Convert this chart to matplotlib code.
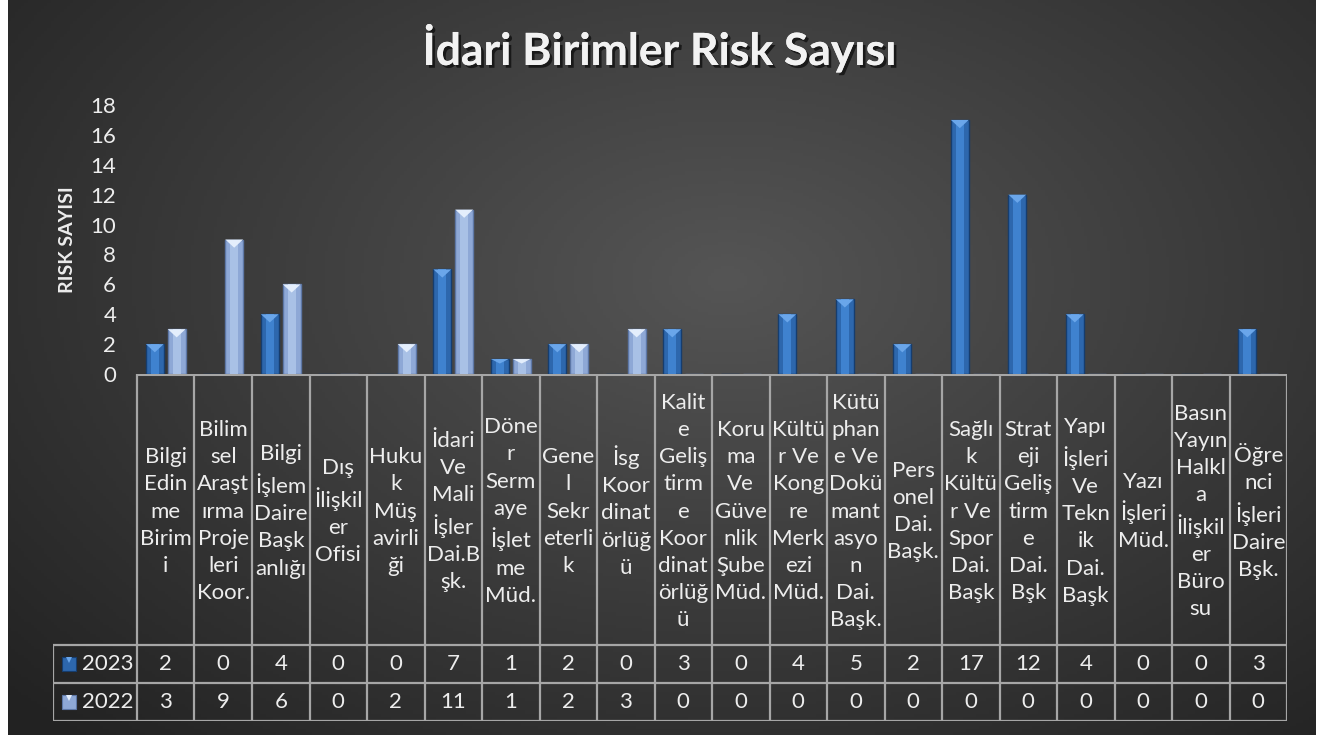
import numpy as np
import matplotlib
matplotlib.use('Agg')
from matplotlib import pyplot as plt
from matplotlib import patheffects as pe

plt.rcParams['font.family'] = ['Lato', 'DejaVu Sans']

# chart data
units = [
    'Bilgi\nEdin\nme\nBirim\ni',
    'Bilim\nsel\nAraşt\nırma\nProje\nleri\nKoor.',
    'Bilgi\nİşlem\nDaire\nBaşk\nanlığı',
    'Dış\nİlişkil\ner\nOfisi',
    'Huku\nk\nMüş\navirli\nği',
    'İdari\nVe\nMali\nİşler\nDai.B\nşk.',
    'Döne\nr\nSerm\naye\nİşlet\nme\nMüd.',
    'Gene\nl\nSekr\neterli\nk',
    'İsg\nKoor\ndinat\nörlüğ\nü',
    'Kalit\ne\nGeliş\ntirm\ne\nKoor\ndinat\nörlüğ\nü',
    'Koru\nma\nVe\nGüve\nnlik\nŞube\nMüd.',
    'Kültü\nr Ve\nKong\nre\nMerk\nezi\nMüd.',
    'Kütü\nphan\ne Ve\nDokü\nmant\nasyo\nn\nDai.\nBaşk.',
    'Pers\nonel\nDai.\nBaşk.',
    'Sağlı\nk\nKültü\nr Ve\nSpor\nDai.\nBaşk',
    'Strat\neji\nGeliş\ntirm\ne\nDai.\nBşk',
    'Yapı\nİşleri\nVe\nTekn\nik\nDai.\nBaşk',
    'Yazı\nİşleri\nMüd.',
    'Basın\nYayın\nHalkl\na\nİlişkil\ner\nBüro\nsu',
    'Öğre\nnci\nİşleri\nDaire\nBşk.',
]
risk_2023 = [2, 0, 4, 0, 0, 7, 1, 2, 0, 3, 0, 4, 5, 2, 17, 12, 4, 0, 0, 3]
risk_2022 = [3, 9, 6, 0, 2, 11, 1, 2, 3, 0, 0, 0, 0, 0, 0, 0, 0, 0, 0, 0]
series = [('2023', risk_2023), ('2022', risk_2022)]
yticks = list(range(0, 19, 2))

W, H = 1327, 735
fig = plt.figure(figsize=(W / 100, H / 100), dpi=100)
fig.patch.set_facecolor('white')

# dark radial gradient panel
bg = fig.add_axes([8 / W, 0, 1308 / W, 1])
gx, gy = np.meshgrid(np.linspace(0, 1, 400), np.linspace(0, 1, 240))
r = np.sqrt(((gx - 0.55) / 0.75) ** 2 + ((gy - 0.38) / 0.85) ** 2)
r = np.clip(r, 0, 1)
c0, c1 = np.array([0x55, 0x55, 0x55]) / 255, np.array([0x22, 0x22, 0x22]) / 255
img = c0 * (1 - r[..., None]) + c1 * r[..., None]
bg.imshow(img, aspect='auto', extent=(0, 1, 1, 0))
bg.axis('off')

txt = '#ededed'
grid = '#a6a6a6'
fs = 16

# main plot area
left, right, y0, y18 = 137, 1287, 374, 105
ax = fig.add_axes([left / W, 1 - y0 / H, (right - left) / W, (y0 - y18) / H])
ax.set_facecolor('none')
n = len(units)
x = np.arange(n)
bw = 0.31
offs = [-0.19, 0.19]
face = ['#2d67ad', '#8ea8d6']
edge = ['#163d6e', '#5d77a6']
shine = ['#3f82cf', '#a9c1e6']
tip = ['#6aa6ea', '#e4eefc']
for (name, vals), o, fc, ec, sh, tc in zip(series, offs, face, edge, shine, tip):
    v = np.array(vals, dtype=float)
    ax.bar(x + o, v, bw, color=fc, edgecolor=ec, linewidth=1.0, zorder=2)
    ax.bar(x + o, v, bw * 0.45, color=sh, linewidth=0, zorder=3)
    for xi, vi in zip(x + o, v):
        if vi <= 0:
            continue
        th = min(0.55, vi * 0.3)
        ax.fill([xi - bw / 2, xi + bw / 2, xi], [vi, vi, vi - th], color=tc, zorder=4, lw=0)
ax.set_xlim(-0.5, n - 0.5)
ax.set_ylim(0, 18)
ax.set_yticks(yticks)
ax.tick_params(axis='y', length=0, labelsize=fs, labelcolor=txt, pad=15)
ax.set_xticks([])
for s in ax.spines.values():
    s.set_visible(False)
ax.set_ylabel('RISK SAYISI', color=txt, fontsize=14, fontweight='bold', labelpad=10)

# data table under the plot
tab_left = 53
xl0 = -0.5 - (left - tab_left) / ((right - left) / n)
tab = fig.add_axes([tab_left / W, 1 - 721 / H, (right - tab_left) / W, (721 - y0) / H])
tab.set_facecolor('none')
tab.set_xlim(xl0, n - 0.5)
tab.set_ylim(721 - y0, 0)
tab.axis('off')
hdr, rh = 271, 38
lw = 1.6
tab.hlines(0, -0.5, n - 0.5, color=grid, lw=2.2)
for yy in [hdr, hdr + rh, hdr + 2 * rh]:
    tab.hlines(yy, xl0, n - 0.5, color=grid, lw=lw)
for xb in np.arange(-0.5, n, 1.0):
    tab.vlines(xb, 0, hdr + 2 * rh, color=grid, lw=lw)
tab.vlines(xl0, hdr, hdr + 2 * rh, color=grid, lw=lw)
for i, lab in enumerate(units):
    tab.text(i, hdr / 2 + 2, lab, ha='center', va='center', color=txt,
             fontsize=fs, linespacing=1.45)
for k, (name, vals) in enumerate(series):
    yc = hdr + rh * (k + 0.5)
    for i, v in enumerate(vals):
        tab.text(i, yc, str(v), ha='center', va='center', color=txt, fontsize=fs)
    tab.plot(xl0 + 0.28, yc, marker='s', ms=10, color=face[k], mec=edge[k], mew=0.8)
    tab.plot(xl0 + 0.28, yc - 4, marker='v', ms=5, color=tip[k], mew=0)
    tab.text(xl0 + 0.5, yc, name, ha='left', va='center', color=txt, fontsize=fs)

fig.text(660 / W, 1 - 48 / H, 'İdari Birimler Risk Sayısı', ha='center', va='center',
         color='#f2f2f2', fontsize=32, fontweight='bold',
         path_effects=[pe.withSimplePatchShadow(offset=(2, -2), shadow_rgbFace='black', alpha=0.6),
                       pe.Normal()])

fig.savefig('out.png', dpi=100, facecolor=fig.get_facecolor())
